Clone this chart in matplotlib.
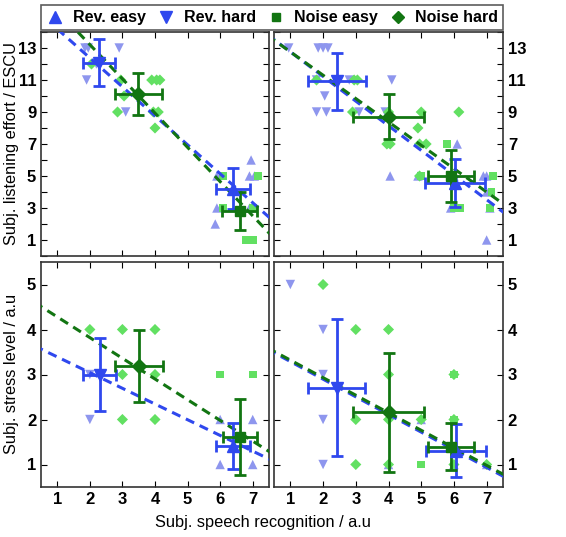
import numpy as np
import matplotlib
matplotlib.use("Agg")
import matplotlib.pyplot as plt
from matplotlib.lines import Line2D

plt.rcParams['font.family'] = ['Liberation Sans', 'DejaVu Sans']

BLUE = '#2f48ee'
GREEN = '#127512'
LBLUE = '#8e96ee'
LGREEN = '#62e062'

### individual ratings (x = speech recognition, y = rating)
# top left
tl_rev_easy = [(5.9, 5), (6.95, 6), (6.9, 5), (7.05, 5), (5.9, 3), (5.85, 2), (6.9, 3)]
tl_rev_hard = [(1.85, 13), (1.95, 13), (2.9, 13), (1.9, 11), (3.1, 9), (2.2, 12)]
tl_noise_easy = [(6.1, 5), (7.15, 5), (7.0, 3), (6.8, 1), (7.0, 1), (6.1, 3)]
tl_noise_hard = [(2.05, 12), (2.95, 11), (3.05, 10), (2.85, 9), (3.9, 11), (4.05, 11),
                 (4.15, 11), (3.95, 9), (4.1, 9), (4.0, 8)]
# top right
tr_rev_easy = [(4.05, 5), (4.9, 5), (5.9, 3), (6.1, 7), (6.9, 5), (7.0, 5), (7.0, 4),
               (7.1, 3), (7.0, 1), (6.0, 5)]
tr_rev_hard = [(0.95, 13), (1.85, 13), (2.0, 13), (2.15, 13), (2.05, 10), (1.8, 9), (2.1, 9),
               (2.8, 11), (4.1, 11), (3.1, 9), (3.9, 9), (1.8, 11)]
tr_noise_easy = [(5.8, 7), (6.0, 3), (6.2, 3), (7.2, 5), (7.15, 4), (7.1, 3), (5.0, 5)]
tr_noise_hard = [(1.8, 11), (2.95, 11), (3.05, 11), (2.9, 9), (4.0, 9), (3.95, 7), (4.05, 7),
                 (5.0, 9), (4.9, 8), (4.95, 7), (5.15, 7), (6.15, 9), (4.95, 5)]
# bottom left
bl_rev_easy = [(6, 2), (6, 1), (7, 1), (7, 2)]
bl_rev_hard = [(2, 3), (2, 2)]
bl_noise_easy = [(6, 3), (7, 3)]
bl_noise_hard = [(2, 4), (3, 4), (4, 4), (3, 3), (4, 3), (3, 2), (4, 2)]
# bottom right
br_rev_easy = [(4, 1), (5, 2), (6, 1), (7, 1)]
br_rev_hard = [(1, 5), (2, 4), (2, 3), (2, 2), (2, 1)]
br_noise_easy = [(6, 3), (6, 2), (5, 1)]
br_noise_hard = [(2, 5), (3, 4), (4, 4), (4, 3), (3, 2), (4, 2), (3, 1), (4, 1), (5, 2),
                 (6, 3), (6, 2), (6, 1), (7, 1)]

### group means: x, y, xerr, yerr  (order: rev easy, rev hard, noise easy, noise hard)
tl_means = [(6.39, 4.2, 0.53, 1.27), (2.28, 12.07, 0.5, 1.47), (6.6, 2.81, 0.54, 1.2), (3.49, 10.13, 0.73, 1.3)]
tr_means = [(6.04, 4.54, 0.92, 1.5), (2.42, 10.92, 0.89, 1.78), (5.91, 5.0, 0.71, 1.6), (4.0, 8.7, 1.07, 1.4)]
bl_means = [(6.4, 1.41, 0.53, 0.52), (2.3, 3.0, 0.5, 0.82), (6.62, 1.61, 0.52, 0.84), (3.5, 3.2, 0.74, 0.8)]
br_means = [(6.07, 1.31, 0.91, 0.58), (2.42, 2.71, 0.87, 1.52), (5.91, 1.4, 0.71, 0.52), (4.0, 2.16, 1.08, 1.32)]

### linear fits: (intercept, slope) for reverb and noise
tl_fits = [(16.0, -1.81), (17.49, -2.14)]
tr_fits = [(14.3, -1.54), (14.22, -1.46)]
bl_fits = [(3.74, -0.349), (4.74, -0.46)]
br_fits = [(3.68, -0.392), (3.71, -0.39)]

markers = ['^', 'v', 's', 'D']
light = [LBLUE, LBLUE, LGREEN, LGREEN]
dark = [BLUE, BLUE, GREEN, GREEN]
msizes = [9, 9, 7, 7]
labels = ['Rev. easy', 'Rev. hard', 'Noise easy', 'Noise hard']

W, H = 566, 537
fig = plt.figure(figsize=(W / 100, H / 100), dpi=100)

def box(x0, y0, x1, y1):
    return [x0 / W, 1 - y1 / H, (x1 - x0) / W, (y1 - y0) / H]

ax_tl = fig.add_axes(box(41, 32, 269, 256))
ax_tr = fig.add_axes(box(274, 32, 503, 256))
ax_bl = fig.add_axes(box(41, 262, 269, 487))
ax_br = fig.add_axes(box(274, 262, 503, 487))

panels = [
    (ax_tl, [tl_rev_easy, tl_rev_hard, tl_noise_easy, tl_noise_hard], tl_means, tl_fits),
    (ax_tr, [tr_rev_easy, tr_rev_hard, tr_noise_easy, tr_noise_hard], tr_means, tr_fits),
    (ax_bl, [bl_rev_easy, bl_rev_hard, bl_noise_easy, bl_noise_hard], bl_means, bl_fits),
    (ax_br, [br_rev_easy, br_rev_hard, br_noise_easy, br_noise_hard], br_means, br_fits),
]

for ax, pts, means, fits in panels:
    for g in range(4):
        xy = np.array(pts[g])
        ax.scatter(xy[:, 0], xy[:, 1], marker=markers[g], s=46 if g < 2 else 32,
                   color=light[g], edgecolors='none', zorder=2)
    xx = np.array([0.3, 7.7])
    for (b, m), c in zip(fits, [BLUE, GREEN]):
        ax.plot(xx, b + m * xx, '--', color=c, lw=2.2, dashes=(3, 2), zorder=3)
    for g in range(4):
        mx, my, ex, ey = means[g]
        ax.errorbar(mx, my, xerr=ex, yerr=ey, fmt=markers[g], color=dark[g], ms=msizes[g],
                    elinewidth=2, capsize=4, capthick=2, zorder=4)
    ax.set_xlim(0.5, 7.5)
    ax.set_xticks(range(1, 8))
    ax.tick_params(direction='in', top=True, right=True, length=4, width=0.8, labelsize=12)
    for s in ax.spines.values():
        s.set_color('#333333')
        s.set_linewidth(1.2)

for ax in [ax_tl, ax_tr]:
    ax.set_ylim(0, 14)
    ax.set_yticks(range(0, 15))
    ax.set_yticklabels(['' if v % 2 == 0 else str(v) for v in range(0, 15)])
    ax.tick_params(labelbottom=False)
for ax in [ax_bl, ax_br]:
    ax.set_ylim(0.5, 5.5)
    ax.set_yticks(range(1, 6))
for ax in [ax_tr, ax_br]:
    ax.tick_params(labelleft=False, labelright=True)
for ax in [ax_tl, ax_tr, ax_bl, ax_br]:
    for lab in ax.get_xticklabels() + ax.get_yticklabels():
        lab.set_fontweight('bold')

fig.text(12 / W, 1 - 144 / H, 'Subj. listening effort / ESCU', rotation=90,
         ha='center', va='center', fontsize=11.8)
fig.text(12 / W, 1 - 374 / H, 'Subj. stress level / a.u', rotation=90,
         ha='center', va='center', fontsize=11.8)
fig.text(263 / W, 1 - 522 / H, 'Subj. speech recognition / a.u', ha='center', va='center',
         fontsize=11.8)

handles = [Line2D([], [], ls='none', marker=markers[g], color=dark[g], ms=[8, 8, 6, 6][g])
           for g in range(4)]
leg = fig.legend(handles, labels, loc='lower left',
                 bbox_to_anchor=(41 / W, 1 - 30 / H, 462 / W, 28 / H), mode='expand',
                 borderaxespad=0, ncol=4, frameon=True, fancybox=False, edgecolor='#333333',
                 prop={'weight': 'bold', 'size': 11.5}, handletextpad=0.5, columnspacing=1.0,
                 borderpad=0.3, handlelength=1.2)
leg.get_frame().set_linewidth(1.2)

fig.savefig('out.png', dpi=100)
